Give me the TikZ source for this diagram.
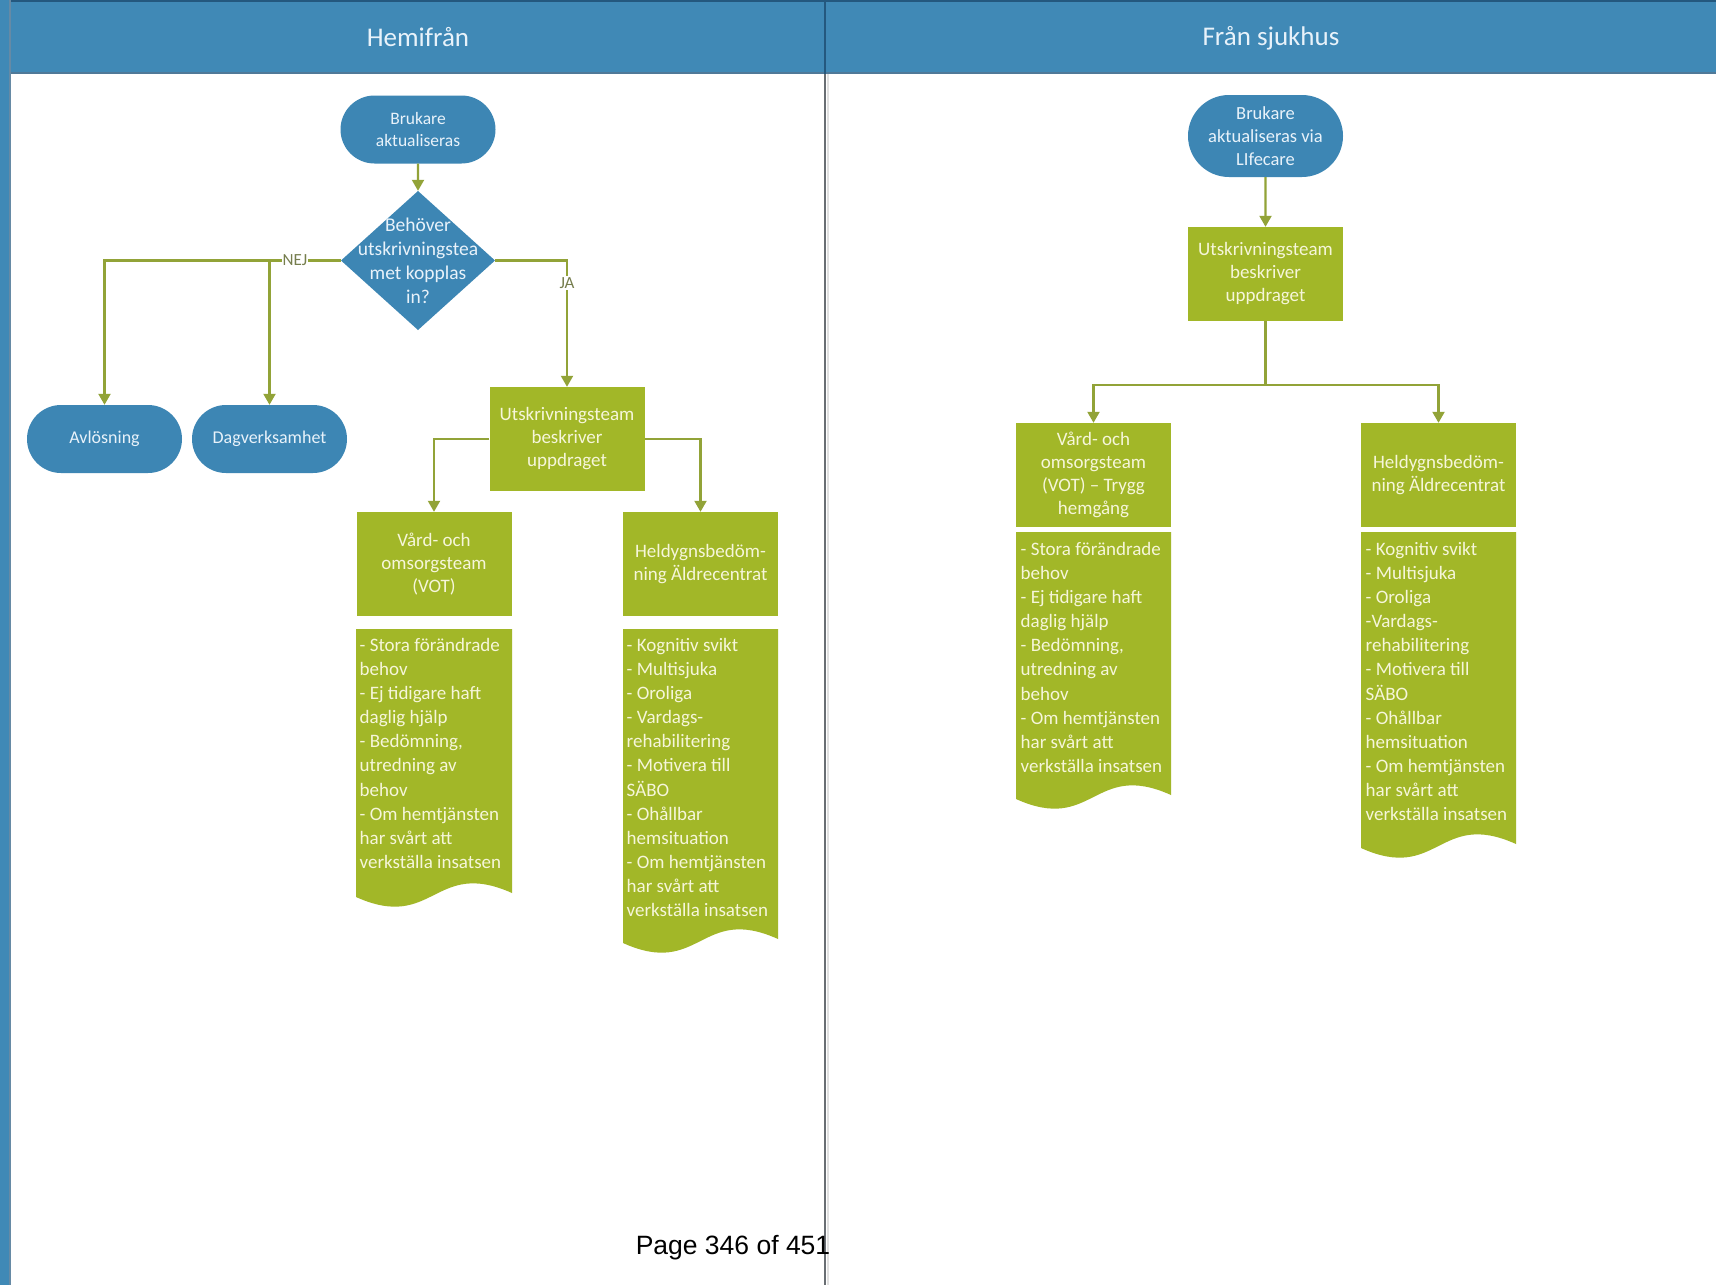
\documentclass[tikz,border=0pt]{standalone}
\usepackage{fontspec}
\setmainfont{Carlito}
\newfontfamily\arialf{Liberation Sans}
\usetikzlibrary{shapes.misc,arrows.meta}
\definecolor{hblue}{RGB}{64,137,182}
\definecolor{hdark}{RGB}{36,88,126}
\definecolor{nblue}{RGB}{61,134,180}
\definecolor{cgreen}{RGB}{162,183,40}
\definecolor{lgreen}{RGB}{146,163,56}
\definecolor{cream}{RGB}{246,246,218}
\definecolor{ltxt}{RGB}{232,242,250}
\definecolor{lblc}{RGB}{118,126,78}
\definecolor{divg}{RGB}{105,110,115}
\begin{document}
\begin{tikzpicture}[x=1pt,y=-1pt,
  stad/.style={rounded rectangle, fill=nblue, text=ltxt, minimum width=155, minimum height=68, inner sep=0, align=center, font=\fontsize{18}{22}\selectfont},
  gbox/.style={rectangle, fill=cgreen, text=cream, minimum width=155, minimum height=104, inner sep=0, align=center, font=\fontsize{19}{23}\selectfont},
  conn/.style={draw=lgreen, line width=2.1pt, -{Triangle[length=11pt,width=12pt]}},
  lline/.style={draw=lgreen, line width=2.1pt},
  lbl/.style={fill=white, text=lblc, inner sep=1pt, font=\fontsize{17}{20}\selectfont},
  doctxt/.style={anchor=north west, inner sep=0, align=left, text=cream, font=\fontsize{19}{24.1}\selectfont},
  hdr/.style={text=ltxt, font=\fontsize{27}{30}\selectfont},
  diabox/.style={rectangle, minimum width=154, minimum height=139, inner sep=0, align=center, text=ltxt, font=\fontsize{19.5}{24}\selectfont,
    path picture={\fill[nblue] (path picture bounding box.north) -- (path picture bounding box.east) -- (path picture bounding box.south) -- (path picture bounding box.west) -- cycle;}}
]
\useasboundingbox (0,0) rectangle (1716,1285);
\fill[white] (0,0) rectangle (1716,1285);
% header band and frame
\fill[hblue] (0,0) rectangle (1716,74);
\draw[hdark, line width=2pt] (0,1) -- (1716,1);
\draw[hdark!80, line width=1.5pt] (0,73) -- (1716,73);
\fill[hblue] (0,0) rectangle (11,1285);
\draw[hdark!70, line width=1.5pt] (10,0) -- (10,1285);
\draw[black!12, line width=2pt] (828,74) -- (828,1285);
\draw[divg, line width=2pt] (825,74) -- (825,1285);
\draw[hdark, line width=2pt] (825,0) -- (825,74);
\node[hdr] (h1) at (418,37) {Hemifrån};
\node[hdr] (h2) at (1271,38) {Från sjukhus};

% ---------- left lane ----------
\node[stad, font=\fontsize{17.5}{22}\selectfont] (bru) at (418,129.5) {Brukare\\aktualiseras};
\node[diabox] (dia) at (418,260.5) {Behöver\\utskrivningstea\\met kopplas\\in?};
\node[stad] (avl) at (104.5,439) {Avlösning};
\node[stad] (dag) at (269.5,439) {Dagverksamhet};
\node[gbox] (utsk) at (567,439) {Utskrivningsteam\\beskriver\\uppdraget};
\node[gbox] (vot) at (434,564) {Vård- och\\omsorgsteam\\(VOT)};
\node[gbox] (held) at (700.5,564) {Heldygnsbedöm-\\ning Äldrecentrat};

\draw[conn] (bru) -- (dia);
\draw[conn] (dia.west) -| (avl.north);
\draw[conn] (dia.west) -| (dag.north);
\draw[conn] (dia.east) -| (utsk.north);
\node[lbl] (nej) at (295,260.5) {NEJ};
\node[lbl] (ja) at (567,283) {JA};
\draw[conn] (utsk.west) -| (vot.north);
\draw[conn] (utsk.east) -| (held.north);

% documents (left)
\fill[cgreen] (356,629) -- (512,629) -- (512,893) .. controls (434,858) and (434,932) .. (356,897) -- cycle;
\fill[cgreen] (623,629) -- (778,629) -- (778,939) .. controls (700.5,904) and (700.5,978) .. (623,943) -- cycle;
\node[doctxt] (votd) at (359.5,638) {- Stora förändrade\\behov\\- Ej tidigare haft\\daglig hjälp\\- Bedömning,\\utredning av\\behov\\- Om hemtjänsten\\har svårt att\\verkställa insatsen};
\node[doctxt] (heldd) at (626.5,638) {- Kognitiv svikt\\- Multisjuka\\- Oroliga\\- Vardags-\\rehabilitering\\- Motivera till\\SÄBO\\- Ohållbar\\hemsituation\\- Om hemtjänsten\\har svårt att\\verkställa insatsen};

% ---------- right lane ----------
\node[stad, minimum height=82, font=\fontsize{18.5}{23}\selectfont] (bru2) at (1265.5,136) {Brukare\\aktualiseras via\\LIfecare};
\node[gbox, minimum height=94] (utsk2) at (1265.5,274) {Utskrivningsteam\\beskriver\\uppdraget};
\node[gbox] (vot2) at (1093.5,475) {Vård- och\\omsorgsteam\\(VOT) – Trygg\\hemgång};
\node[gbox] (held2) at (1438.5,475) {Heldygnsbedöm-\\ning Äldrecentrat};
\coordinate (sp) at (1265.5,385);
\draw[conn] (bru2) -- (utsk2);
\draw[lline] (utsk2.south) -- (sp);
\draw[conn] (sp) -| (vot2.north);
\draw[conn] (sp) -| (held2.north);

\fill[cgreen] (1016,532) -- (1171,532) -- (1171,795) .. controls (1093.5,760) and (1093.5,834) .. (1016,799) -- cycle;
\fill[cgreen] (1361,532) -- (1516,532) -- (1516,844) .. controls (1438.5,809) and (1438.5,883) .. (1361,848) -- cycle;
\node[doctxt] (votd2) at (1020.5,542) {- Stora förändrade\\behov\\- Ej tidigare haft\\daglig hjälp\\- Bedömning,\\utredning av\\behov\\- Om hemtjänsten\\har svårt att\\verkställa insatsen};
\node[doctxt] (heldd2) at (1365.5,542) {- Kognitiv svikt\\- Multisjuka\\- Oroliga\\-Vardags-\\rehabilitering\\- Motivera till\\SÄBO\\- Ohållbar\\hemsituation\\- Om hemtjänsten\\har svårt att\\verkställa insatsen};

% footer
\node[font=\arialf\fontsize{26.5}{29}\selectfont, text=black] (pg) at (733,1248) {Page 346 of 451};
\end{tikzpicture}
\end{document}
